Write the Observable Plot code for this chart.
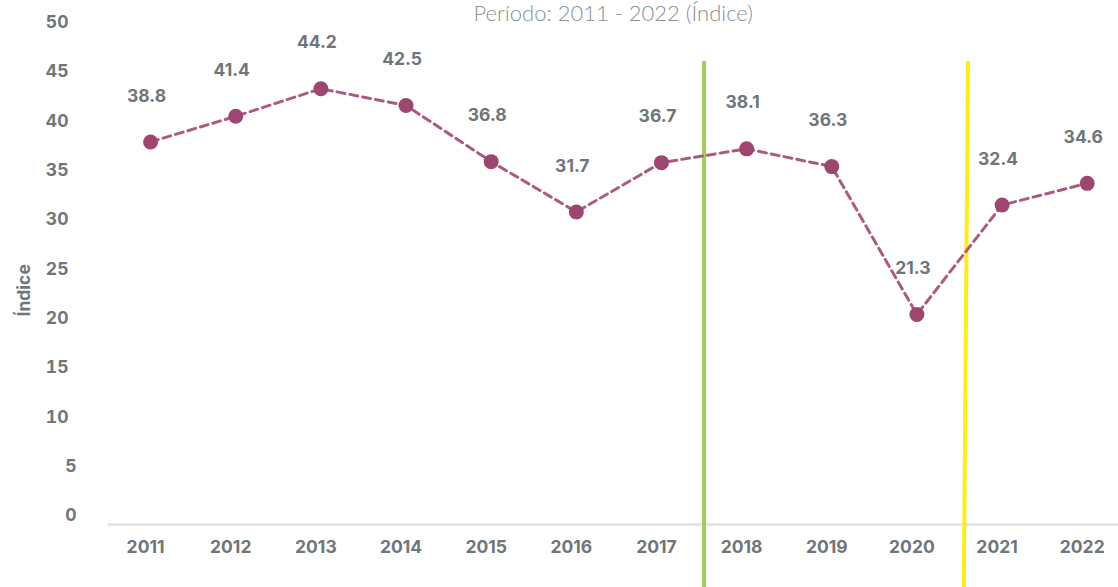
<!DOCTYPE html>
<html>
<head>
<meta charset="utf-8">
<script src="https://cdn.jsdelivr.net/npm/d3@7"></script>
<script src="https://cdn.jsdelivr.net/npm/@observablehq/plot@0.6"></script>
<style>
  html, body { margin: 0; padding: 0; background: #fff; overflow: hidden; }
  #chart svg { display: block; }
</style>
</head>
<body>
<div id="chart"></div>
<script>
// ---- data ----
const years = [2011, 2012, 2013, 2014, 2015, 2016, 2017, 2018, 2019, 2020, 2021, 2022];
const values = [38.8, 41.4, 44.2, 42.5, 36.8, 31.7, 36.7, 38.1, 36.3, 21.3, 32.4, 34.6];
const yTicks = [0, 5, 10, 15, 20, 25, 30, 35, 40, 45, 50];
const titleText = "Período: 2011 - 2022 (Índice)";
const yLabel = "Índice";
// period separators (in year units)
const greenLine = [{x1: 2017.5, x2: 2017.5, y1: 47, y2: -7}];
const yellowLine = [{x1: 2020.6, x2: 2020.55, y1: 47, y2: -7}];

const data = years.map((year, i) => ({year, value: values[i]}));

const W = 1118, H = 587;
const mL = 107.5, mT = 31, mB = 63;
const gray = "#6f7679";
const font = "Inter, Lato, sans-serif";

const chart = Plot.plot({
  width: W,
  height: H,
  marginLeft: mL,
  marginRight: 0,
  marginTop: mT,
  marginBottom: mB,
  style: {fontFamily: font, background: "#fff", overflow: "visible"},
  x: {domain: [2010.5, 2022.5], range: [mL, mL + 12 * 85.15], axis: null},
  y: {domain: [0, 50], axis: null},
  marks: [
    // baseline
    Plot.ruleY([0], {stroke: "#e2e2e6", strokeWidth: 2.5}),
    // y tick labels
    Plot.text(yTicks.filter(d => d >= 10), {y: d => d, frameAnchor: "left", textAnchor: "end", dx: -39.5, dy: -9,
      fill: gray, fontSize: 17.5, fontWeight: 700}),
    Plot.text(yTicks.filter(d => d < 10), {y: d => d, frameAnchor: "left", textAnchor: "end", dx: -31.5, dy: -9,
      fill: gray, fontSize: 17.5, fontWeight: 700}),
    // x tick labels
    Plot.text(years, {x: d => d, y: () => 0, dy: 23, dx: -5, text: d => String(d),
      fill: gray, fontSize: 17.5, fontWeight: 700}),
    // y label
    Plot.text([yLabel], {frameAnchor: "left", dx: 24 - mL, dy: 38.5, rotate: -90,
      fill: gray, fontSize: 17.5, fontWeight: 700}),
    // title
    Plot.text([titleText], {frameAnchor: "top", dy: -11, lineAnchor: "bottom", fontFamily: "Lato, sans-serif",
      fill: "#8b9093", fontSize: 22, fontWeight: 300}),
    // separators
    Plot.link(greenLine, {x1: "x1", x2: "x2", y1: "y1", y2: "y2", stroke: "#a4cb62", strokeWidth: 4}),
    Plot.link(yellowLine, {x1: "x1", x2: "x2", y1: "y1", y2: "y2", stroke: "#ffec1a", strokeWidth: 4}),
    // line + dots
    Plot.line(data, {x: "year", y: "value", stroke: "#ad5a83", strokeWidth: 3, strokeDasharray: "8,5"}),
    Plot.dot(data, {x: "year", y: "value", r: 7.5, fill: "#9c4670"}),
    // data labels
    Plot.text(data, {x: "year", y: "value", text: d => d.value.toFixed(1), dy: -46, dx: -4,
      fill: gray, fontSize: 17.5, fontWeight: 700})
  ]
});
document.getElementById("chart").appendChild(chart);
</script>
</body>
</html>
